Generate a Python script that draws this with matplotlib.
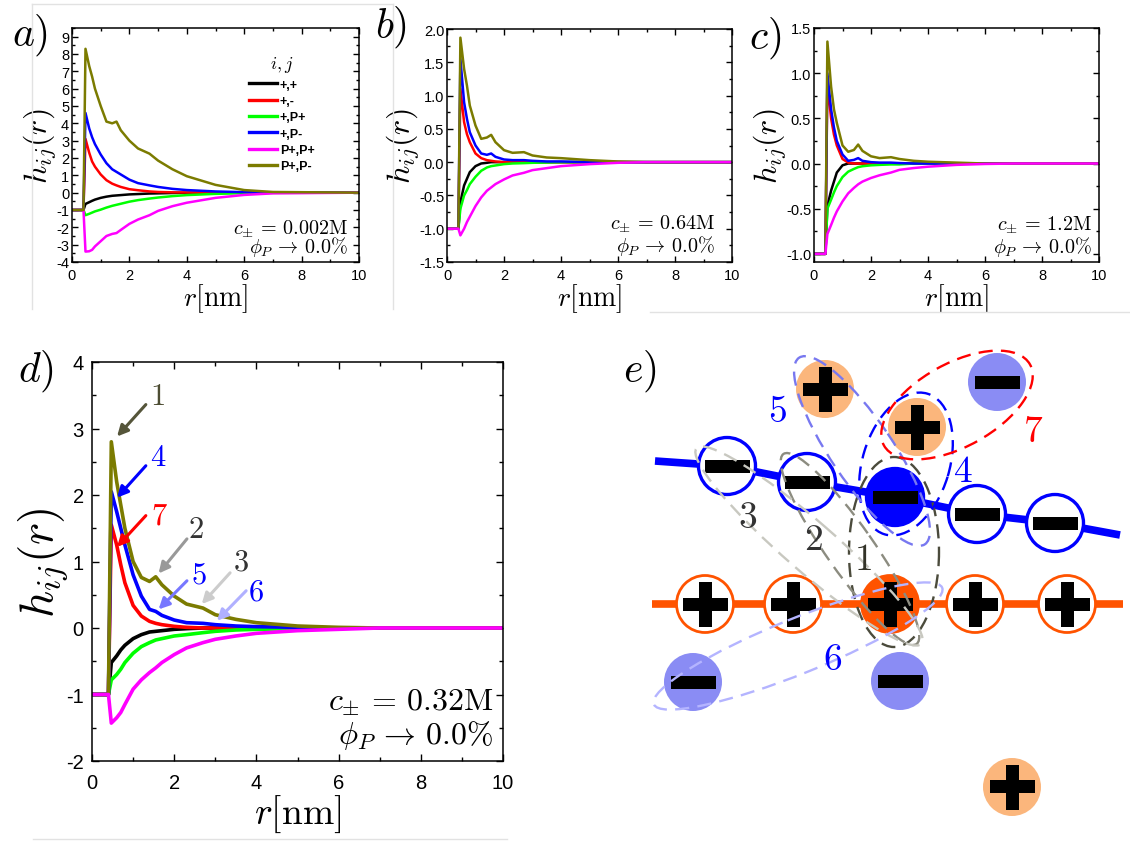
import matplotlib.pyplot as plt
from matplotlib.patches import Circle, Ellipse, Rectangle
from matplotlib.lines import Line2D
from matplotlib.ticker import MultipleLocator, FormatStrFormatter

plt.rcParams['font.family'] = ['Liberation Sans', 'DejaVu Sans']
plt.rcParams['mathtext.fontset'] = 'cm'
plt.rcParams['axes.unicode_minus'] = False

W, H = 1130, 845

# ---- data: h_ij(r) -----------------------------------------------------
r_nm = [0.0, 0.40, 0.47, 0.6, 0.7, 0.8, 1.0, 1.2, 1.4, 1.55, 1.7, 2.0,
        2.3, 2.7, 3.0, 3.5, 4.0, 5.0, 6.0, 7.0, 10.0]

pair_labels = ['+,+', '+,-', '+,P+', '+,P-', 'P+,P+', 'P+,P-']
pair_colors = ['#000000', '#ff0000', '#00ff00', '#0000ff', '#ff00ff', '#7b7b00']

# a) c = 0.002M
a_pp = [-1, -1, -0.65, -0.55, -0.47, -0.40, -0.30, -0.23, -0.18, -0.16, -0.14, -0.10, -0.08, -0.05, -0.04, -0.02, -0.01, 0, 0, 0, 0]
a_pm = [-1, -1, 3.1, 2.3, 1.8, 1.5, 1.05, 0.72, 0.52, 0.42, 0.33, 0.20, 0.14, 0.07, 0.04, 0.02, 0.01, 0, 0, 0, 0]
a_pPp = [-1, -1, -1.3, -1.22, -1.15, -1.08, -0.98, -0.86, -0.76, -0.70, -0.64, -0.52, -0.43, -0.34, -0.28, -0.20, -0.14, -0.07, -0.03, -0.01, 0]
a_pPm = [-1, -1, 4.6, 3.7, 3.2, 2.8, 2.2, 1.7, 1.35, 1.2, 1.05, 0.75, 0.55, 0.42, 0.33, 0.22, 0.15, 0.07, 0.03, 0.01, 0]
a_PpPp = [-1, -1, -3.4, -3.38, -3.3, -3.1, -2.8, -2.5, -2.38, -2.33, -2.15, -1.8, -1.55, -1.3, -1.05, -0.78, -0.58, -0.30, -0.13, -0.04, 0]
a_PpPm = [-1, -1, 8.3, 7.3, 6.7, 6.0, 5.0, 4.1, 4.0, 4.1, 3.6, 3.0, 2.55, 2.25, 1.85, 1.35, 0.95, 0.45, 0.15, 0.04, 0]

# b) c = 0.64M
b_pp = [-1, -1, -0.6, -0.35, -0.25, -0.15, -0.06, -0.02, -0.01, 0, 0, 0, 0, 0, 0, 0, 0, 0, 0, 0, 0]
b_pm = [-1, -1, 1.1, 0.6, 0.42, 0.3, 0.13, 0.06, 0.03, 0.02, 0.01, 0, 0, 0, 0, 0, 0, 0, 0, 0, 0]
b_pPp = [-1, -1, -0.7, -0.5, -0.42, -0.33, -0.22, -0.13, -0.08, -0.06, -0.05, -0.03, -0.02, -0.015, -0.01, -0.005, 0, 0, 0, 0, 0]
b_pPm = [-1, -1, 1.55, 0.9, 0.65, 0.45, 0.25, 0.13, 0.11, 0.13, 0.08, 0.04, 0.03, 0.03, 0.02, 0.01, 0.01, 0, 0, 0, 0]
b_PpPp = [-1, -1, -1.1, -1.0, -0.9, -0.82, -0.66, -0.53, -0.43, -0.38, -0.33, -0.26, -0.20, -0.16, -0.12, -0.09, -0.06, -0.03, -0.01, 0, 0]
b_PpPm = [-1, -1, 1.87, 1.4, 1.15, 0.85, 0.55, 0.35, 0.37, 0.41, 0.30, 0.18, 0.14, 0.15, 0.10, 0.07, 0.06, 0.03, 0.01, 0, 0]

# c) c = 1.2M
c_pp = [-1, -1, -0.47, -0.3, -0.2, -0.1, -0.02, 0, 0, 0, 0, 0, 0, 0, 0, 0, 0, 0, 0, 0, 0]
c_pm = [-1, -1, 0.9, 0.5, 0.32, 0.2, 0.05, 0.01, 0, 0, 0, 0, 0, 0, 0, 0, 0, 0, 0, 0, 0]
c_pPp = [-1, -1, -0.5, -0.4, -0.32, -0.25, -0.15, -0.09, -0.06, -0.04, -0.03, -0.02, -0.015, -0.01, -0.01, 0, 0, 0, 0, 0, 0]
c_pPm = [-1, -1, 1.0, 0.6, 0.4, 0.25, 0.1, 0.03, 0.04, 0.06, 0.03, 0.015, 0.01, 0.01, 0.005, 0, 0, 0, 0, 0, 0]
c_PpPp = [-1, -1, -0.78, -0.68, -0.6, -0.53, -0.42, -0.33, -0.27, -0.23, -0.20, -0.16, -0.13, -0.10, -0.07, -0.05, -0.035, -0.015, -0.005, 0, 0]
c_PpPm = [-1, -1, 1.35, 0.85, 0.6, 0.45, 0.2, 0.13, 0.15, 0.21, 0.14, 0.08, 0.06, 0.07, 0.05, 0.03, 0.02, 0.01, 0, 0, 0]

# d) c = 0.32M
d_pp = [-1, -1, -0.52, -0.42, -0.33, -0.26, -0.16, -0.10, -0.06, -0.05, -0.04, -0.02, -0.01, 0, 0, 0, 0, 0, 0, 0, 0]
d_pm = [-1, -1, 1.55, 1.25, 0.95, 0.68, 0.34, 0.18, 0.10, 0.07, 0.05, 0.025, 0.01, 0, 0, 0, 0, 0, 0, 0, 0]
d_pPp = [-1, -1, -0.78, -0.70, -0.62, -0.52, -0.38, -0.28, -0.22, -0.18, -0.16, -0.12, -0.10, -0.07, -0.05, -0.03, -0.02, -0.01, 0, 0, 0]
d_pPm = [-1, -1, 2.05, 1.75, 1.5, 1.25, 0.8, 0.48, 0.28, 0.25, 0.19, 0.12, 0.08, 0.07, 0.05, 0.03, 0.02, 0.01, 0, 0, 0]
d_PpPp = [-1, -1, -1.43, -1.35, -1.27, -1.15, -0.92, -0.78, -0.67, -0.60, -0.52, -0.40, -0.30, -0.22, -0.17, -0.12, -0.08, -0.04, -0.02, 0, 0]
d_PpPm = [-1, -1, 2.8, 2.2, 1.85, 1.5, 1.0, 0.76, 0.70, 0.77, 0.65, 0.48, 0.36, 0.30, 0.20, 0.13, 0.08, 0.03, 0.01, 0, 0]

# annotations of panel d: label, colour, label position, arrow tail, arrow tip
d_marks = ['1', '4', '7', '2', '5', '3', '6']
d_mark_text_colors = ['#4d4d33', '#0000ff', '#ff0000', '#333333', '#0000ff', '#333333', '#0000ff']
d_mark_arrow_colors = ['#55553a', '#0000ff', '#ff0000', '#999999', '#7777ff', '#cccccc', '#b0b0ff']
d_mark_text_xy = [(1.6, 3.49), (1.6, 2.57), (1.64, 1.69), (2.53, 1.49), (2.59, 0.81), (3.62, 1.0), (4.0, 0.55)]
d_mark_tail = [(1.31, 3.36), (1.31, 2.44), (1.31, 1.69), (2.31, 1.34), (2.31, 0.71), (3.36, 0.83), (3.75, 0.56)]
d_mark_tip = [(0.61, 2.88), (0.61, 1.96), (0.61, 1.22), (1.62, 0.82), (1.62, 0.28), (2.67, 0.36), (3.04, 0.11)]

# ---- schematic e) (pixel coordinates of the picture) --------------------
blue_chain_x = [655, 727, 807, 895, 977, 1055, 1120]
blue_chain_y = [462, 467, 483, 498, 515, 524, 536]
blue_bead_filled = [False, False, True, False, False]
orange_chain_x = [652, 705, 793, 890, 975, 1067, 1123]
orange_chain_y = [605, 605, 605, 605, 605, 605, 605]
orange_bead_filled = [False, False, True, False, False]
free_plus_xy = [(825, 390), (917, 428), (1012, 788)]
free_minus_xy = [(997, 383), (693, 683), (900, 682)]

ellipse_names = ['1', '2', '3', '4', '5', '6', '7']
ellipse_center = [(894, 553), (850, 550), (809, 547), (906, 465), (862, 452), (798, 647), (957, 406)]
ellipse_size = [(190, 90), (232, 47), (298, 50), (147, 87), (225, 62), (311, 55), (167, 83)]
ellipse_angle = [90, 55, 41, 107, 56, -22, -29]
ellipse_color = ['#4b4b3c', '#8c8c80', '#c8c8c0', '#0000ff', '#7878f0', '#b4b4ff', '#ff0000']
ellipse_label_xy = [(863, 560), (813, 540), (748, 518), (963, 472), (777, 412), (833, 660), (1033, 432)]
ellipse_label_color = ['#333328', '#333333', '#333333', '#0000ff', '#0000ff', '#0000ff', '#ff0000']


fig = plt.figure(figsize=(W / 100, H / 100), dpi=100)


def px_axes(left, top, right, bottom):
    return fig.add_axes([left / W, 1 - bottom / H, (right - left) / W, (bottom - top) / H])


def draw_panel(ax, series, ylim, ymajor, yminor, yfmt, lw, tick_fs, pads, lab_fs, ylab_fs,
               labpads, conc, c_pos, phi_pos, txt_fs, magenta_last):
    order = [0, 1, 2, 3, 4, 5] if not magenta_last else [0, 1, 2, 3, 5, 4]
    for k in order:
        ax.plot(r_nm, series[k], color=pair_colors[k], lw=lw, label=pair_labels[k],
                solid_joinstyle='round')
    ax.set_xlim(0, 10)
    ax.set_ylim(*ylim)
    ax.xaxis.set_major_locator(MultipleLocator(2))
    ax.xaxis.set_minor_locator(MultipleLocator(1))
    ax.yaxis.set_major_locator(MultipleLocator(ymajor))
    ax.yaxis.set_minor_locator(MultipleLocator(yminor))
    ax.yaxis.set_major_formatter(FormatStrFormatter(yfmt))
    ax.tick_params(which='both', direction='in', top=True, right=True, width=1,
                   labelsize=tick_fs)
    ax.tick_params(axis='x', which='major', pad=pads[0])
    ax.tick_params(axis='y', which='major', pad=pads[1])
    ax.tick_params(which='major', length=4)
    ax.tick_params(which='minor', length=2.5)
    for s in ax.spines.values():
        s.set_linewidth(1.1)
    ax.set_xlabel(r'$r[\mathrm{nm}]$', fontsize=lab_fs, labelpad=labpads[0])
    ax.set_ylabel(r'$h_{ij}(r)$', fontsize=ylab_fs, labelpad=labpads[1])
    ax.text(c_pos[0], c_pos[1], r'$c_{\pm}\,=\,%s\mathrm{M}$' % conc, transform=ax.transAxes,
            ha='right', va='baseline', fontsize=txt_fs)
    ax.text(phi_pos[0], phi_pos[1], r'$\phi_P\,\rightarrow\,0.0\%$', transform=ax.transAxes,
            ha='right', va='baseline', fontsize=txt_fs)


ax_a = px_axes(72, 29, 359, 263)
draw_panel(ax_a, [a_pp, a_pm, a_pPp, a_pPm, a_PpPp, a_PpPm], (-4, 9.5), 1, 0.5, '%d',
           1.8, 10.5, (4, 2), 20, 23, (0, -2), '0.002', (0.962, 0.12), (0.962, 0.043), 14.5, False)
leg = ax_a.legend(loc='upper left', bbox_to_anchor=(0.594, 0.915), frameon=False,
                  prop={'weight': 'bold', 'size': 9}, title=r'$i, j$', title_fontsize=13,
                  handlelength=2.3, handletextpad=0.2, labelspacing=0.35, borderpad=0)
for h in leg.get_lines():
    h.set_linewidth(2.4)

ax_b = px_axes(447, 30, 732, 263)
draw_panel(ax_b, [b_pp, b_pm, b_pPp, b_pPm, b_PpPp, b_PpPm], (-1.5, 2.0), 0.5, 0.25, '%.1f',
           1.8, 10.5, (4, 2), 20, 23, (0, -2), '0.64', (0.94, 0.142), (0.94, 0.048), 14.5, True)

ax_c = px_axes(814, 29, 1099, 263)
draw_panel(ax_c, [c_pp, c_pm, c_pPp, c_pPm, c_PpPp, c_PpPm], (-1.09, 1.5), 0.5, 0.25, '%.1f',
           1.8, 10.5, (4, 2), 20, 23, (0, -2), '1.2', (0.975, 0.137), (0.975, 0.043), 14.5, True)

ax_d = px_axes(92, 363, 503, 762)
draw_panel(ax_d, [d_pp, d_pm, d_pPp, d_pPm, d_PpPp, d_PpPm], (-2, 4), 1, 0.5, '%d',
           2.6, 14.5, (9, 6), 27, 34, (0, -4), '0.32', (0.976, 0.130), (0.976, 0.046), 23, True)
ax_d.tick_params(which='major', length=5)
ax_d.tick_params(which='minor', length=3)

for name, tcol, acol, txy, tail, tip in zip(d_marks, d_mark_text_colors, d_mark_arrow_colors,
                                            d_mark_text_xy, d_mark_tail, d_mark_tip):
    ax_d.annotate('', xy=tip, xytext=tail,
                  arrowprops=dict(arrowstyle='-|>', color=acol, lw=2.2, mutation_scale=16,
                                  shrinkA=0, shrinkB=0))
    ax_d.text(txy[0], txy[1], r'$%s$' % name, color=tcol, fontsize=22, ha='center', va='center')

# ---- e) schematic ----
ax_e = fig.add_axes([620 / W, 0, 510 / W, 525 / H])
ax_e.set_xlim(620, 1130)
ax_e.set_ylim(845, 320)
ax_e.axis('off')


def draw_sign(ax, x, y, plus, z):
    ax.add_patch(Rectangle((x - 22.5, y - 6.5), 45, 13, color='black', zorder=z, lw=0))
    if plus:
        ax.add_patch(Rectangle((x - 6.5, y - 22.5), 13, 45, color='black', zorder=z, lw=0))


ax_e.plot(blue_chain_x, blue_chain_y, color='#0000ff', lw=5.5, solid_capstyle='butt', zorder=1)
for x, y, filled in zip(blue_chain_x[1:-1], blue_chain_y[1:-1], blue_bead_filled):
    ax_e.add_patch(Circle((x, y), 28.5, facecolor='#0000ff' if filled else 'white',
                          edgecolor='#0000ff', lw=2.4, zorder=2))
    draw_sign(ax_e, x, y, False, 3)

ax_e.plot(orange_chain_x, orange_chain_y, color='#ff5300', lw=5.5, solid_capstyle='butt', zorder=1)
for x, y, filled in zip(orange_chain_x[1:-1], orange_chain_y[1:-1], orange_bead_filled):
    ax_e.add_patch(Circle((x, y), 28.5, facecolor='#ff5300' if filled else 'white',
                          edgecolor='#ff5300', lw=2.0, zorder=2))
    draw_sign(ax_e, x, y, True, 3)

for x, y in free_plus_xy:
    ax_e.add_patch(Circle((x, y), 29, facecolor='#fbb67c', edgecolor='none', zorder=2))
    draw_sign(ax_e, x, y, True, 3)
for x, y in free_minus_xy:
    ax_e.add_patch(Circle((x, y), 29, facecolor='#8a8cf4', edgecolor='none', zorder=2))
    draw_sign(ax_e, x, y, False, 3)

for name, cen, size, ang, col, lxy, lcol in zip(ellipse_names, ellipse_center, ellipse_size,
                                                  ellipse_angle, ellipse_color,
                                                  ellipse_label_xy, ellipse_label_color):
    ax_e.add_patch(Ellipse(cen, size[0], size[1], angle=ang, fill=False, edgecolor=col,
                           lw=1.7, linestyle=(0, (6, 3.5)), zorder=4))
    ax_e.text(lxy[0], lxy[1], r'$%s$' % name, color=lcol, fontsize=27, ha='center',
              va='center', zorder=5)

# ---- panel letters ----
for lab, (px, py) in zip(['a', 'b', 'c', 'd', 'e'],
                         [(30, 35), (391, 27), (765, 38), (36, 371), (640, 371)]):
    fig.text(px / W, 1 - py / H, r'$%s)$' % lab, fontsize=30, ha='center', va='center')

# faint frame remnants of the original layout
frame_lines = [((32, 393), (5, 5)), ((32, 32), (5, 310)), ((393, 393), (5, 310)),
               ((650, 1130), (313, 313)), ((33, 507), (840, 840))]
for xs, ys in frame_lines:
    fig.add_artist(Line2D([x / W for x in xs], [1 - y / H for y in ys],
                          transform=fig.transFigure, color='#e2e2e2', lw=1))

fig.savefig('out.png', dpi=100)
